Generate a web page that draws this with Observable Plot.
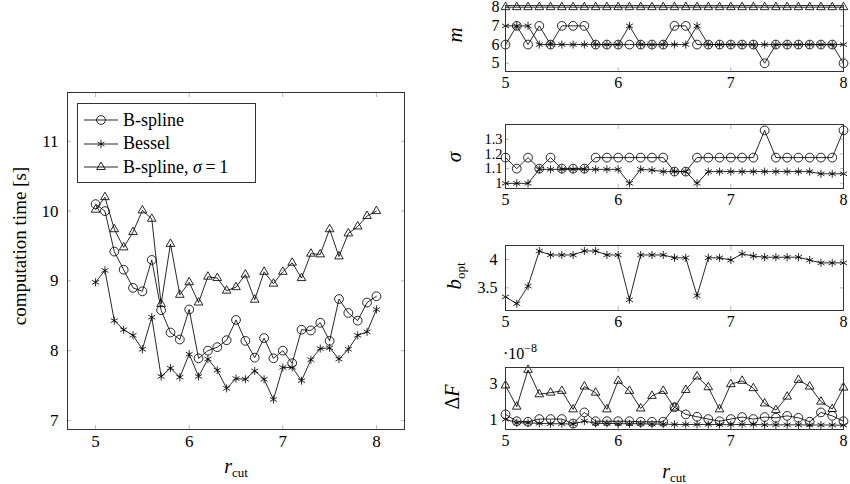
<!DOCTYPE html>
<html>
<head>
<meta charset="utf-8">
<script src="https://cdn.jsdelivr.net/npm/d3@7"></script>
<script src="https://cdn.jsdelivr.net/npm/@observablehq/plot@0.6"></script>
<style>
  html, body { margin: 0; padding: 0; background: white; }
  #root { position: relative; width: 850px; height: 484px; background: white; overflow: hidden;
          font-family: "Liberation Serif", "DejaVu Serif", serif; color: black; }
  .panel { position: absolute; }
  .lbl { position: absolute; transform: translate(-50%, -50%); white-space: nowrap; font-size: 19px; line-height: 1; }
  .rot { transform: translate(-50%, -50%) rotate(-90deg); }
  .lbl sub { font-size: 13px; vertical-align: -4px; line-height: 0; }
  #legend { position: absolute; left: 77px; top: 103px; width: 177px; height: 78px; border: 1px solid #333;
            background: white; font-size: 18px; }
  .row { position: absolute; left: 0; height: 22px; display: flex; align-items: center; }
  .row svg { display: block; }
  .row span { margin-left: 1px; }
</style>
</head>
<body>
<div id="root"></div>
<script>
// ---------- data ----------
const rcut = [5.0, 5.1, 5.2, 5.3, 5.4, 5.5, 5.6, 5.7, 5.8, 5.9,
              6.0, 6.1, 6.2, 6.3, 6.4, 6.5, 6.6, 6.7, 6.8, 6.9,
              7.0, 7.1, 7.2, 7.3, 7.4, 7.5, 7.6, 7.7, 7.8, 7.9, 8.0];

const timeBspline = [10.10, 10.00, 9.42, 9.16, 8.90, 8.85, 9.30, 8.58, 8.26, 8.16,
                     8.59, 7.89, 8.00, 8.05, 8.15, 8.44, 8.14, 7.90, 8.18, 7.89,
                     8.00, 7.82, 8.30, 8.29, 8.40, 8.14, 8.74, 8.54, 8.43, 8.69, 8.78];
const timeBessel  = [8.98, 9.15, 8.43, 8.30, 8.22, 8.02, 8.48, 7.63, 7.75, 7.62,
                     7.95, 7.63, 7.88, 7.72, 7.46, 7.60, 7.59, 7.71, 7.59, 7.30,
                     7.76, 7.76, 7.57, 7.87, 8.03, 8.04, 7.88, 8.02, 8.22, 8.27, 8.59];
const timeSigma1  = [10.02, 10.20, 9.74, 9.48, 9.70, 10.01, 9.89, 8.67, 9.53, 8.80,
                     8.98, 8.69, 9.06, 9.04, 8.86, 8.91, 9.09, 8.73, 9.13, 8.96,
                     9.13, 9.26, 9.04, 9.39, 9.38, 9.74, 9.35, 9.68, 9.78, 9.93, 10.00];

const mBspline = [6, 7, 6, 7, 6, 7, 7, 7, 6, 6,
                  6, 6, 6, 6, 6, 7, 7, 6, 6, 6,
                  6, 6, 6, 5, 6, 6, 6, 6, 6, 6, 5];
const mBessel  = [7, 7, 7, 6, 6, 6, 6, 6, 6, 6,
                  6, 7, 6, 6, 6, 6, 6, 7, 6, 6,
                  6, 6, 6, 6, 6, 6, 6, 6, 6, 6, 6];
const mSigma1  = [8, 8, 8, 8, 8, 8, 8, 8, 8, 8,
                  8, 8, 8, 8, 8, 8, 8, 8, 8, 8,
                  8, 8, 8, 8, 8, 8, 8, 8, 8, 8, 8];

const sigmaBspline = [1.175, 1.10, 1.175, 1.10, 1.175, 1.10, 1.10, 1.10, 1.175, 1.175,
                      1.175, 1.175, 1.175, 1.175, 1.175, 1.08, 1.08, 1.175, 1.175, 1.175,
                      1.175, 1.175, 1.175, 1.36, 1.175, 1.175, 1.175, 1.175, 1.175, 1.175, 1.36];
const sigmaBessel  = [1.00, 1.00, 1.00, 1.095, 1.095, 1.095, 1.095, 1.095, 1.095, 1.095,
                      1.095, 1.00, 1.095, 1.09, 1.08, 1.08, 1.08, 1.00, 1.08, 1.08,
                      1.08, 1.08, 1.08, 1.08, 1.08, 1.08, 1.08, 1.08, 1.065, 1.065, 1.065];

const boptBessel = [3.34, 3.22, 3.53, 4.15, 4.08, 4.08, 4.08, 4.15, 4.15, 4.08,
                    4.08, 3.29, 4.08, 4.08, 4.08, 4.03, 4.03, 3.36, 4.03, 4.03,
                    3.99, 4.10, 4.06, 4.04, 4.04, 4.04, 4.04, 3.99, 3.94, 3.94, 3.94];

// Delta F in units of 1e-8
const dfBspline = [1.32, 0.94, 0.91, 1.06, 1.06, 1.06, 0.81, 1.43, 0.94, 0.94,
                   0.94, 0.94, 0.91, 0.91, 0.91, 1.72, 1.32, 1.19, 1.06, 0.94,
                   1.06, 1.17, 1.06, 1.17, 1.13, 1.24, 1.13, 0.91, 1.43, 1.24, 0.94];
const dfBessel  = [1.05, 0.85, 0.85, 0.82, 0.80, 0.80, 0.78, 0.95, 0.82, 0.82,
                   0.80, 0.80, 0.80, 0.78, 0.78, 0.76, 0.76, 0.76, 0.76, 0.75,
                   0.75, 0.76, 0.76, 0.74, 0.74, 0.74, 0.74, 0.73, 0.73, 0.73, 0.72];
const dfSigma1  = [2.93, 1.75, 3.80, 2.44, 2.53, 2.63, 1.60, 2.87, 2.53, 1.60,
                   3.19, 2.63, 1.65, 2.35, 2.63, 1.70, 2.68, 3.43, 2.83, 1.60,
                   3.00, 3.19, 2.78, 1.93, 1.56, 2.31, 3.24, 2.87, 2.03, 1.62, 2.81];

const xTicks = [5, 6, 7, 8];
const timeTicks = [7, 8, 9, 10, 11];
const mTicks = [5, 6, 7, 8];
const sigmaTicks = [1, 1.1, 1.2, 1.3];
const boptTicks = [3.5, 4];
const dfTicks = [1, 3];

const legendNames = ["B-spline", "Bessel", "B-spline, <i>σ</i>&#8201;=&#8201;1"];

// ---------- helpers ----------
const rows = arr => rcut.map((x, i) => ({x, y: arr[i]}));
const LW = 0.85;
const styles = {
  circle:   {symbol: "circle", r: 4.4},
  asterisk: {symbol: "asterisk", r: 3.8},
  triangle: {symbol: "triangle", r: 3.2}
};
function series(arr, sym) {
  const d = rows(arr);
  return [
    Plot.line(d, {x: "x", y: "y", stroke: "black", strokeWidth: LW}),
    Plot.dot(d, {x: "x", y: "y", ...styles[sym], stroke: "black", fill: "none", strokeWidth: LW})
  ];
}
function axes(xt, yt, yPad, yFont) {
  const yOpt = yFont ? {fontSize: yFont} : {};
  return [
    Plot.axisX({anchor: "bottom", ticks: xt, tickSize: -4, stroke: "#b5b5b5", tickPadding: 9, label: null, tickFormat: d => String(d)}),
    Plot.axisX({anchor: "top", ticks: xt, tickSize: -4, stroke: "#b5b5b5", label: null, tickFormat: () => ""}),
    Plot.axisY({anchor: "left", ticks: yt, tickSize: -4, stroke: "#b5b5b5", tickPadding: 4 + yPad, label: null, tickFormat: d => String(d), ...yOpt}),
    Plot.axisY({anchor: "right", ticks: yt, tickSize: -4, stroke: "#b5b5b5", label: null, tickFormat: () => ""})
  ];
}
const svgStyle = size => ({fontFamily: '"Liberation Serif", "DejaVu Serif", serif', fontSize: size + "px", color: "black", background: "transparent", overflow: "visible"});

const root = document.getElementById("root");
function place(node, left, top) {
  node.classList.add("panel");
  node.style.left = left + "px";
  node.style.top = top + "px";
  root.appendChild(node);
}

// ---------- main panel ----------
const main = Plot.plot({
  width: 430, height: 484,
  marginLeft: 67, marginRight: 26, marginTop: 92, marginBottom: 55,
  x: {domain: [4.70, 8.30]},
  y: {domain: [6.87, 11.70]},
  style: svgStyle(17),
  marks: [
    ...axes(xTicks, timeTicks, 9),
    ...series(timeBspline, "circle"),
    ...series(timeBessel, "asterisk"),
    ...series(timeSigma1, "triangle"),
    Plot.frame({stroke: "#333", strokeWidth: 1})
  ]
});
place(main, 0, 0);

// ---------- right panels ----------
function small(top, mt, mb, h, ydom, yt, yPad, yFont, marks) {
  const p = Plot.plot({
    width: 420, height: h,
    marginLeft: 75, marginRight: 7, marginTop: mt, marginBottom: mb,
    x: {domain: [5, 8]},
    y: {domain: ydom},
    style: svgStyle(16),
    marks: [...axes(xTicks, yt, yPad, yFont), ...marks, Plot.frame({stroke: "#333", strokeWidth: 1})]
  });
  place(p, 430, top);
}

small(0, 5, 24, 95, [4.56, 8.09], mTicks, 6, null, [
  ...series(mBspline, "circle"),
  ...series(mBessel, "asterisk"),
  ...series(mSigma1, "triangle")
]);
small(100, 24, 24, 112, [0.965, 1.40], sigmaTicks, 3, 14.5, [
  ...series(sigmaBspline, "circle"),
  ...series(sigmaBessel, "asterisk")
]);
small(215, 30, 24, 119, [3.10, 4.247], boptTicks, 8, null, [
  ...series(boptBessel, "asterisk")
]);
small(340, 27, 24, 113, [0.48, 3.93], dfTicks, 8, null, [
  ...series(dfBspline, "circle"),
  ...series(dfBessel, "asterisk"),
  ...series(dfSigma1, "triangle")
]);

// ---------- labels ----------
function label(html, x, y, rotate, size) {
  const d = document.createElement("div");
  d.className = "lbl" + (rotate ? " rot" : "");
  d.style.left = x + "px";
  d.style.top = y + "px";
  if (size) d.style.fontSize = size + "px";
  d.innerHTML = html;
  root.appendChild(d);
}
label("computation time [s]", 19, 246, true, 19);
label("<i>r</i><sub>cut</sub>", 236, 466, false, 20);
label("<i>r</i><sub>cut</sub>", 674, 471, false, 20);
label("<i>m</i>", 455, 35, true, 21);
label("<i>σ</i>", 454, 157, true, 21);
label("<i>b</i><sub>opt</sub>", 454, 276, true, 21);
label("Δ<i>F</i>", 452, 397, true, 20);
const sci = document.createElement("div");
sci.style.cssText = "position:absolute;left:503px;top:346px;font-size:16px;line-height:1;white-space:nowrap;";
sci.innerHTML = "·10<sup style='font-size:12px;vertical-align:7px;line-height:0'>−8</sup>";
root.appendChild(sci);

// ---------- legend ----------
const legend = document.createElement("div");
legend.id = "legend";
const symPaths = {
  circle: d3.symbol(d3.symbolCircle, Math.PI * 4.4 * 4.4)(),
  asterisk: d3.symbol(d3.symbolAsterisk, Math.PI * 3.8 * 3.8)(),
  triangle: d3.symbol(d3.symbolTriangle, Math.PI * 3.2 * 3.2)()
};
["circle", "asterisk", "triangle"].forEach((s, i) => {
  const r = document.createElement("div");
  r.className = "row";
  r.style.top = (5 + i * 23.5) + "px";
  r.innerHTML = `<svg width="44" height="22"><line x1="6" x2="40" y1="11" y2="11" stroke="black" stroke-width="${LW}"/>` +
    `<path d="${symPaths[s]}" transform="translate(23,11)" fill="none" stroke="black" stroke-width="${LW}"/></svg>` +
    `<span>${legendNames[i]}</span>`;
  legend.appendChild(r);
});
root.appendChild(legend);
</script>
</body>
</html>
